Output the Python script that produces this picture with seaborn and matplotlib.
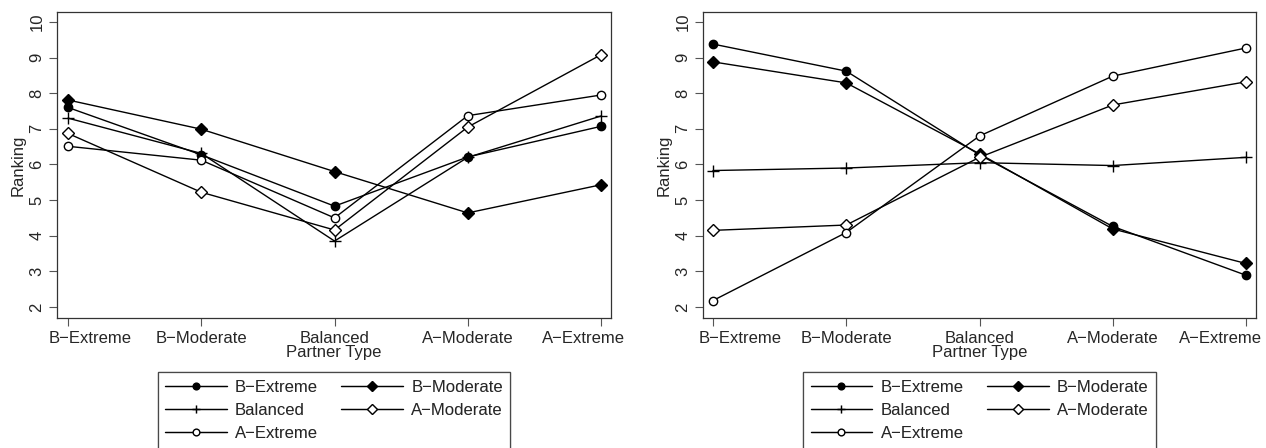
import matplotlib
matplotlib.use("Agg")
import matplotlib.pyplot as plt
import matplotlib.transforms as mtransforms
import seaborn as sns
import pandas as pd

# partner types on the x axis
partner_types = ["B\u2212Extreme", "B\u2212Moderate", "Balanced", "A\u2212Moderate", "A\u2212Extreme"]
series_names = ["B\u2212Extreme", "B\u2212Moderate", "Balanced", "A\u2212Moderate", "A\u2212Extreme"]

# left panel rankings
left_b_extreme = [7.60, 6.27, 4.83, 6.21, 7.07]
left_b_moderate = [7.81, 6.99, 5.80, 4.64, 5.43]
left_balanced = [7.30, 6.31, 3.85, 6.20, 7.36]
left_a_moderate = [6.87, 5.22, 4.16, 7.05, 9.08]
left_a_extreme = [6.51, 6.12, 4.50, 7.37, 7.95]

# right panel rankings
right_b_extreme = [9.38, 8.62, 6.27, 4.26, 2.89]
right_b_moderate = [8.88, 8.29, 6.30, 4.19, 3.22]
right_balanced = [5.83, 5.90, 6.05, 5.97, 6.20]
right_a_moderate = [4.15, 4.30, 6.20, 7.67, 8.32]
right_a_extreme = [2.18, 4.09, 6.80, 8.48, 9.27]

sns.set_theme(style="ticks")
plt.rcParams['font.family'] = ['Liberation Sans', 'DejaVu Sans']
plt.rcParams['axes.unicode_minus'] = False

FS = 12

# marker, filled, size
styles = {
    "B\u2212Extreme": ("o", True, 6.0),
    "B\u2212Moderate": ("D", True, 6.3),
    "Balanced": ("+", True, 8.0),
    "A\u2212Moderate": ("D", False, 6.3),
    "A\u2212Extreme": ("o", False, 6.0),
}

W, H = 1266, 448
fig = plt.figure(figsize=(W / 100, H / 100), dpi=100)

def px_axes(x0, x1, y0, y1):
    return fig.add_axes([x0 / W, 1 - y1 / H, (x1 - x0) / W, (y1 - y0) / H])

def draw_panel(ax, values, xlim, first_dx, last_dx):
    for name, vals in zip(series_names, values):
        m, filled, ms = styles[name]
        df = pd.DataFrame({"Partner Type": partner_types, "Ranking": vals})
        sns.lineplot(data=df, x="Partner Type", y="Ranking", ax=ax, color="black",
                     marker=m, markersize=ms,
                     markerfacecolor="black" if filled else "white",
                     markeredgecolor="black", markeredgewidth=1.0,
                     linewidth=1.0, label=name, sort=False)
    ax.set_xlim(*xlim)
    ax.set_ylim(1.69, 10.28)
    ax.set_yticks(range(2, 11))
    ax.set_xticks(range(len(partner_types)))
    ax.set_xticklabels(partner_types)
    ax.set_xlabel("Partner Type", fontsize=FS, va="center")
    ax.xaxis.set_label_coords(0.5, (318 - 352) / 306)
    ax.set_ylabel("Ranking", fontsize=FS, va="center")
    ax.yaxis.set_label_coords((18 - 57) / 553, 0.5)
    ax.tick_params(axis="both", labelsize=FS, length=6, width=0.8,
                   color="#555555", pad=3)
    for lab in ax.get_yticklabels():
        lab.set_rotation(90)
        lab.set_va("center")
    for sp in ax.spines.values():
        sp.set_visible(True)
        sp.set_color("#333333")
        sp.set_linewidth(0.9)
    ax.get_legend().remove()
    # nudge the outer tick labels inwards, as in the original
    labs = ax.get_xticklabels()
    for lab, dx in ((labs[0], first_dx), (labs[-1], last_dx)):
        lab.set_transform(lab.get_transform() +
                          mtransforms.ScaledTranslation(dx / 100, 0, fig.dpi_scale_trans))

ax1 = px_axes(57, 611, 12, 318)
draw_panel(ax1, [left_b_extreme, left_b_moderate, left_balanced,
                 left_a_moderate, left_a_extreme], (-0.083, 4.075), 22, -18)
ax2 = px_axes(703, 1256, 12, 318)
draw_panel(ax2, [right_b_extreme, right_b_moderate, right_balanced,
                 right_a_moderate, right_a_extreme], (-0.075, 4.075), 27, -26)

handles, labels = ax1.get_legend_handles_labels()
hmap = dict(zip(labels, handles))
order = ["B\u2212Extreme", "Balanced", "A\u2212Extreme", "B\u2212Moderate", "A\u2212Moderate"]

for center in (334, 979.5):
    leg = fig.legend([hmap[k] for k in order], order, ncol=2,
                     loc="upper center", bbox_to_anchor=(center / W, 1 - 372 / H),
                     borderaxespad=0, fontsize=FS, frameon=True, fancybox=False,
                     handlelength=3.7, handletextpad=0.5, columnspacing=1.4,
                     labelspacing=0.5, borderpad=0.45, markerscale=0.8)
    leg.get_frame().set_edgecolor("#333333")
    leg.get_frame().set_linewidth(0.9)
    fig.add_artist(leg)

fig.savefig("out.png", dpi=100)
